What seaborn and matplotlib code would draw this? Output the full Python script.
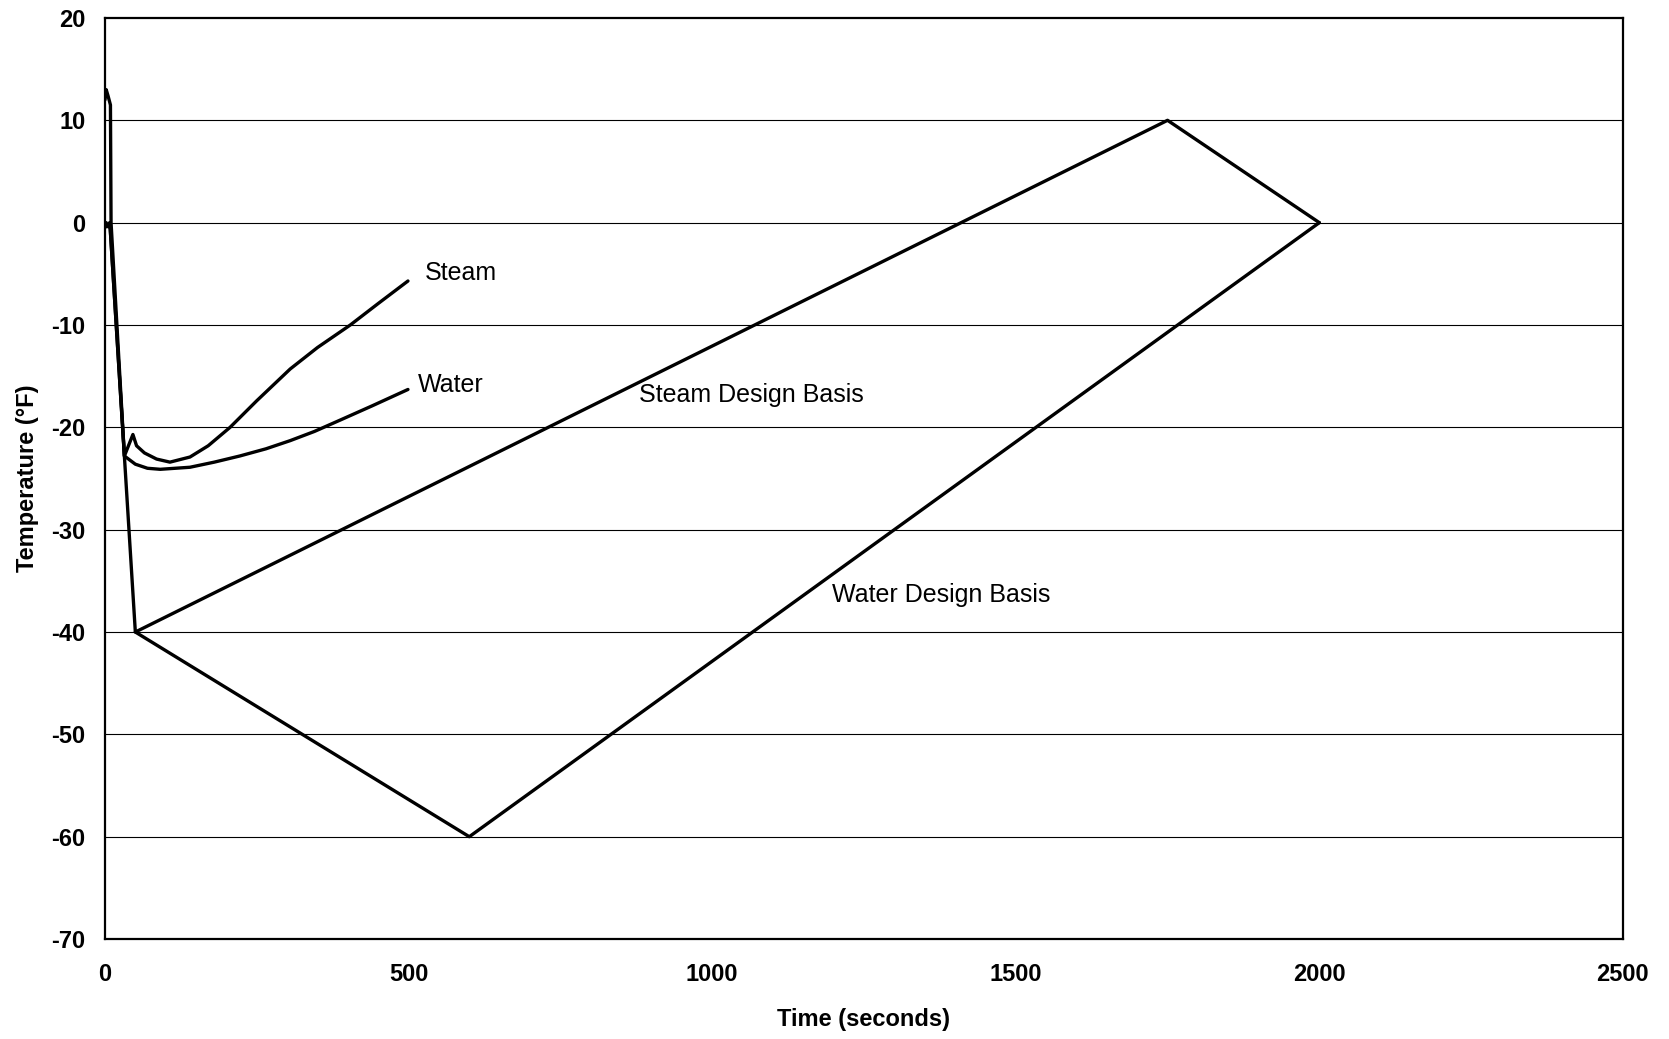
import matplotlib
matplotlib.use("Agg")
import matplotlib.pyplot as plt
import seaborn as sns
import pandas as pd

# Measured temperature traces (seconds, °F)
steam_t = [0, 2, 5, 9, 10, 32, 40, 46, 52, 65, 85, 107, 140, 170, 206, 250, 305, 350, 404, 450, 499]
steam_T = [12.0, 13.0, 12.4, 11.5, 0.0, -22.8, -21.6, -20.7, -21.8, -22.5, -23.1, -23.4, -22.9, -21.8, -20.0, -17.4, -14.3, -12.2, -10.0, -7.9, -5.7]

water_t = [0, 2, 5, 8, 32, 50, 70, 91, 140, 180, 222, 265, 305, 345, 387, 440, 499]
water_T = [-0.5, 0.0, -0.4, 0.0, -22.8, -23.6, -24.0, -24.1, -23.9, -23.4, -22.8, -22.1, -21.3, -20.4, -19.3, -17.9, -16.3]

# Design basis envelopes
steam_db_t = [8, 50, 1750, 2000]
steam_db_T = [0, -40, 10, 0]
water_db_t = [50, 600, 2000]
water_db_T = [-40, -60, 0]

x_ticks = [0, 500, 1000, 1500, 2000, 2500]
y_ticks = [20, 10, 0, -10, -20, -30, -40, -50, -60, -70]
grid_levels = [10, 0, -10, -20, -30, -40, -50, -60]

sns.set_theme(style="white")
plt.rcParams["font.family"] = ["Liberation Sans", "DejaVu Sans"]
plt.rcParams["axes.unicode_minus"] = False
plt.rcParams["text.color"] = "black"
plt.rcParams["axes.labelcolor"] = "black"
plt.rcParams["xtick.color"] = "black"
plt.rcParams["ytick.color"] = "black"

fig = plt.figure(figsize=(16.69, 10.39), dpi=100)
ax = fig.add_axes([0.0629, 0.0962, 0.9095, 0.8865])

for lvl in grid_levels:
    ax.axhline(lvl, color="black", lw=0.8, zorder=1)

series = [
    (steam_db_t, steam_db_T),
    (water_db_t, water_db_T),
    (steam_t, steam_T),
    (water_t, water_T),
]
for t, T in series:
    df = pd.DataFrame({"t": t, "T": T})
    sns.lineplot(data=df, x="t", y="T", sort=False, estimator=None,
                 color="black", lw=2.4, ax=ax, zorder=3)

ax.text(526, -4.9, "Steam", fontsize=18, va="center", ha="left", color="black")
ax.text(516, -15.9, "Water", fontsize=18, va="center", ha="left", color="black")
ax.text(880, -16.8, "Steam Design Basis", fontsize=18, va="center", ha="left", color="black")
ax.text(1197, -36.4, "Water Design Basis", fontsize=18, va="center", ha="left", color="black")

ax.set_xlim(0, 2500)
ax.set_ylim(-70, 20)
ax.set_xticks(x_ticks)
ax.set_yticks(y_ticks)
ax.tick_params(axis="x", length=0, pad=17, labelsize=17, labelcolor="black")
ax.tick_params(axis="y", length=0, pad=14, labelsize=17, labelcolor="black")
for lab in ax.get_xticklabels() + ax.get_yticklabels():
    lab.set_fontweight("bold")

for s in ax.spines.values():
    s.set_color("black")
    s.set_linewidth(1.6)

ax.set_xlabel("Time (seconds)", fontsize=17, fontweight="bold", labelpad=16, color="black")
ax.set_ylabel("Temperature (°F)", fontsize=17, fontweight="bold", labelpad=9, color="black")

fig.savefig("out.png", dpi=100, facecolor="white")
